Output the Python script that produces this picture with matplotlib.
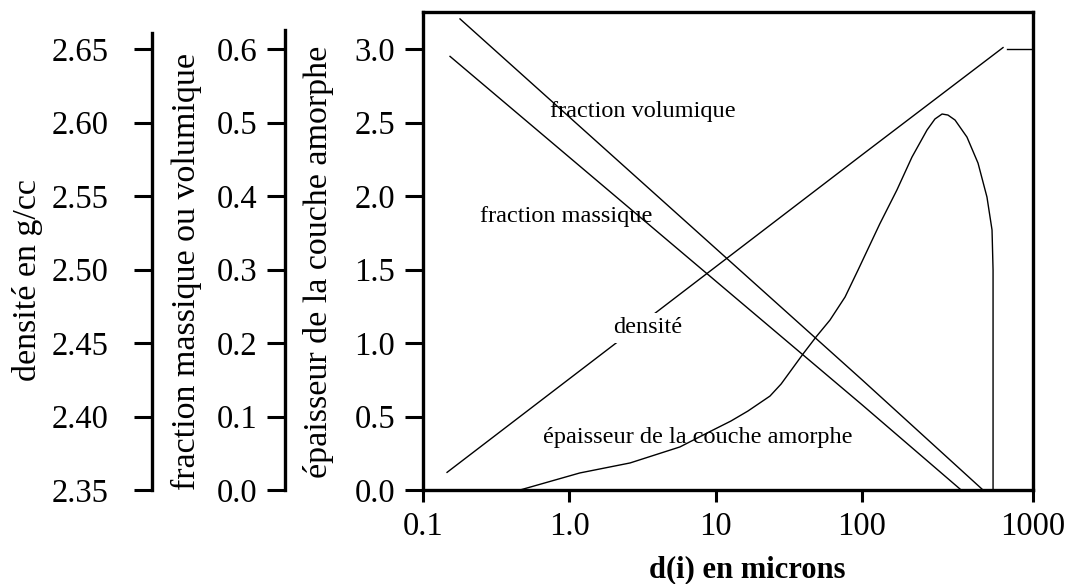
# -*- coding: utf-8 -*-
import numpy as np
import matplotlib
matplotlib.use('Agg')
import matplotlib.pyplot as plt

# d(i) en microns for each curve
vol_d = [0.179, 100.0, 510.0]
vol_frac = [0.641, 0.150, 0.0]

mass_d = [0.153, 100.0, 380.0]
mass_frac = [0.590, 0.116, 0.0]

rho_d = [0.146, 100.0, 668.0]
rho = [2.362, 2.578, 2.651]
rho_flat_d = [705.0, 1000.0]
rho_flat = [2.65, 2.65]

ep_d = [0.46, 1.18, 2.60, 5.70, 9.59, 12.7, 16.6, 23.5, 28.0, 39.5, 48.5,
        60.4, 76.6, 94.0, 127.0, 160.0, 196.0, 240.0, 267.0, 294.0, 318.0,
        350.0, 411.0, 477.0, 538.0, 576.0, 584.0, 584.0]
ep = [0.0, 0.116, 0.184, 0.293, 0.408, 0.469, 0.537, 0.639, 0.721, 0.925,
      1.041, 1.156, 1.313, 1.497, 1.810, 2.041, 2.265, 2.449, 2.524, 2.558,
      2.551, 2.517, 2.401, 2.224, 1.993, 1.769, 1.497, 0.0]

x_ticks = [0.1, 1.0, 10.0, 100.0, 1000.0]
x_labels = ['0.1', '1.0', '10', '100', '1000']
ep_ticks = [0.0, 0.5, 1.0, 1.5, 2.0, 2.5, 3.0]
frac_ticks = [0.0, 0.1, 0.2, 0.3, 0.4, 0.5, 0.6]
rho_ticks = [2.35, 2.40, 2.45, 2.50, 2.55, 2.60, 2.65]

# the last decade of the original axis is drawn wider than the others
K = 171.0 / 146.33

def fwd(x):
    u = np.log10(np.clip(x, 1e-12, None))
    return np.where(u <= 2, u, 2 + (u - 2) * K)

def inv(u):
    u = np.asarray(u, dtype=float)
    return np.where(u <= 2, 10.0**u, 10.0**(2 + (u - 2) / K))

plt.rcParams['font.family'] = ['Liberation Serif', 'DejaVu Serif']
plt.rcParams['font.size'] = 24

SPINE_LW = 2.4
TICK_W = 2.2

fig = plt.figure(figsize=(10.71, 5.84), dpi=100)
ax = fig.add_axes([423/1071, 1 - 490/584, 610/1071, 478/584])
ax.set_xscale('function', functions=(fwd, inv))
ax.set_xlim(0.1, 1000)
ax.set_ylim(0, 3.252)

ax.plot(ep_d, ep, color='black', lw=1.0)

for s in ax.spines.values():
    s.set_linewidth(SPINE_LW)
ax.set_xticks(x_ticks)
ax.set_xticklabels(x_labels)
ax.xaxis.set_minor_locator(matplotlib.ticker.NullLocator())
ax.set_yticks(ep_ticks)
ax.set_yticklabels(['%.1f' % v for v in ep_ticks])
ax.tick_params(axis='x', direction='out', length=8.5, width=TICK_W,
               pad=7, labelsize=23.5)
ax.tick_params(axis='y', direction='out', length=13, width=TICK_W,
               pad=7, labelsize=23.5)
ax.set_ylabel(u'épaisseur de la couche amorphe', fontsize=24.5, va='center')
ax.yaxis.set_label_coords(-0.172, 0.477)
ax.set_xlabel('d(i) en microns', fontsize=22, fontweight='bold', va='center')
ax.xaxis.set_label_coords(0.531, -0.167)

def side_axis(pos, lo, hi, top, ticks, fmt, pad):
    a = ax.twinx()
    a.set_ylim(lo, hi)
    a.yaxis.set_ticks_position('left')
    a.yaxis.set_label_position('left')
    a.spines['right'].set_visible(False)
    a.spines['top'].set_visible(False)
    a.spines['bottom'].set_visible(False)
    a.spines['left'].set_visible(True)
    a.spines['left'].set_position(('axes', pos))
    a.spines['left'].set_linewidth(SPINE_LW)
    a.spines['left'].set_bounds(lo, top)
    a.set_yticks(ticks)
    a.set_yticklabels([fmt % v for v in ticks])
    a.tick_params(axis='y', direction='out', length=13, width=TICK_W,
                  pad=pad, labelsize=23.5)
    return a

ax_frac = side_axis(-0.2262, 0.0, 3.252/5, 0.626, frac_ticks, '%.1f', 7)
ax_frac.plot(vol_d, vol_frac, color='black', lw=1.0)
ax_frac.plot(mass_d, mass_frac, color='black', lw=1.0)
ax_frac.set_ylabel('fraction massique ou volumique', fontsize=24.5,
                   va='center')
ax_frac.yaxis.set_label_coords(-0.3885, 0.458)

ax_rho = side_axis(-0.4443, 2.35, 2.35 + 0.3252, 2.661, rho_ticks, '%.2f', 18)
ax_rho.plot(rho_d, rho, color='black', lw=1.0)
ax_rho.plot(rho_flat_d, rho_flat, color='black', lw=1.0)
ax_rho.set_ylabel(u'densité en g/cc', fontsize=24.5, va='center')
ax_rho.yaxis.set_label_coords(-0.649, 0.439)

# curve labels
ax_rho.text(0.208, 0.791, 'fraction volumique', transform=ax.transAxes,
            fontsize=17.5, va='center', zorder=5)
ax_rho.text(0.0934, 0.573, 'fraction massique', transform=ax.transAxes,
            fontsize=17.5, va='center', zorder=5)
ax_rho.text(0.3115, 0.339, u'densité', transform=ax.transAxes,
            fontsize=17.5, va='center', zorder=5,
            bbox=dict(facecolor='white', edgecolor='none', pad=3))
ax_rho.text(0.197, 0.109, u'épaisseur de la couche amorphe',
            transform=ax.transAxes, fontsize=17.5, va='center', zorder=5)

fig.savefig('out.png', dpi=100, facecolor='white')
